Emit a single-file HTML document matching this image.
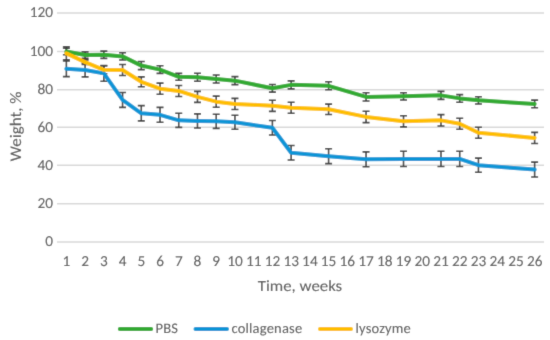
<!DOCTYPE html>
<html><head><meta charset="utf-8"><style>
html,body{margin:0;padding:0;background:#fff;}
svg{display:block;}
#w{width:550px;height:340px;}
text{font-family:Carlito,"Liberation Sans",sans-serif;fill:#595959;stroke:#595959;stroke-width:0.12px;text-rendering:geometricPrecision;}
</style></head><body>
<div id="w"><svg width="550" height="340" viewBox="0 0 550 340">
<defs><filter id="b" x="0" y="0" width="550" height="340" filterUnits="userSpaceOnUse"><feConvolveMatrix order="3" kernelMatrix="0.0113 0.0838 0.0113 0.0838 0.6193 0.0838 0.0113 0.0838 0.0113" edgeMode="duplicate" preserveAlpha="true"/></filter></defs>
<g filter="url(#b)">
<rect width="550" height="340" fill="#fff"/>
<line x1="57.0" y1="242.05" x2="544.0" y2="242.05" stroke="#D9D9D9" stroke-width="1.5"/><line x1="57.0" y1="203.70" x2="544.0" y2="203.70" stroke="#D9D9D9" stroke-width="1.5"/><line x1="57.0" y1="165.35" x2="544.0" y2="165.35" stroke="#D9D9D9" stroke-width="1.5"/><line x1="57.0" y1="127.35" x2="544.0" y2="127.35" stroke="#D9D9D9" stroke-width="1.5"/><line x1="57.0" y1="89.65" x2="544.0" y2="89.65" stroke="#D9D9D9" stroke-width="1.5"/><line x1="57.0" y1="51.40" x2="544.0" y2="51.40" stroke="#D9D9D9" stroke-width="1.5"/><line x1="57.0" y1="13.10" x2="544.0" y2="13.10" stroke="#D9D9D9" stroke-width="1.5"/>
<g font-size="15.3">
<text transform="translate(53,246.25) scale(1,1.0)" text-anchor="end" textLength="7.766" lengthAdjust="spacingAndGlyphs">0</text><text transform="translate(53,207.90) scale(1,1.0)" text-anchor="end" textLength="15.531" lengthAdjust="spacingAndGlyphs">20</text><text transform="translate(53,169.55) scale(1,1.0)" text-anchor="end" textLength="15.531" lengthAdjust="spacingAndGlyphs">40</text><text transform="translate(53,131.55) scale(1,1.0)" text-anchor="end" textLength="15.531" lengthAdjust="spacingAndGlyphs">60</text><text transform="translate(53,93.85) scale(1,1.0)" text-anchor="end" textLength="15.531" lengthAdjust="spacingAndGlyphs">80</text><text transform="translate(53,55.60) scale(1,1.0)" text-anchor="end" textLength="23.297" lengthAdjust="spacingAndGlyphs">100</text><text transform="translate(53,17.30) scale(1,1.0)" text-anchor="end" textLength="23.297" lengthAdjust="spacingAndGlyphs">120</text>
<text transform="translate(66.37,266) scale(1,1.0)" text-anchor="middle" textLength="7.766" lengthAdjust="spacingAndGlyphs">1</text><text transform="translate(85.10,266) scale(1,1.0)" text-anchor="middle" textLength="7.766" lengthAdjust="spacingAndGlyphs">2</text><text transform="translate(103.83,266) scale(1,1.0)" text-anchor="middle" textLength="7.766" lengthAdjust="spacingAndGlyphs">3</text><text transform="translate(122.56,266) scale(1,1.0)" text-anchor="middle" textLength="7.766" lengthAdjust="spacingAndGlyphs">4</text><text transform="translate(141.29,266) scale(1,1.0)" text-anchor="middle" textLength="7.766" lengthAdjust="spacingAndGlyphs">5</text><text transform="translate(160.02,266) scale(1,1.0)" text-anchor="middle" textLength="7.766" lengthAdjust="spacingAndGlyphs">6</text><text transform="translate(178.75,266) scale(1,1.0)" text-anchor="middle" textLength="7.766" lengthAdjust="spacingAndGlyphs">7</text><text transform="translate(197.48,266) scale(1,1.0)" text-anchor="middle" textLength="7.766" lengthAdjust="spacingAndGlyphs">8</text><text transform="translate(216.21,266) scale(1,1.0)" text-anchor="middle" textLength="7.766" lengthAdjust="spacingAndGlyphs">9</text><text transform="translate(234.94,266) scale(1,1.0)" text-anchor="middle" textLength="15.531" lengthAdjust="spacingAndGlyphs">10</text><text transform="translate(253.67,266) scale(1,1.0)" text-anchor="middle" textLength="15.531" lengthAdjust="spacingAndGlyphs">11</text><text transform="translate(272.40,266) scale(1,1.0)" text-anchor="middle" textLength="15.531" lengthAdjust="spacingAndGlyphs">12</text><text transform="translate(291.13,266) scale(1,1.0)" text-anchor="middle" textLength="15.531" lengthAdjust="spacingAndGlyphs">13</text><text transform="translate(309.87,266) scale(1,1.0)" text-anchor="middle" textLength="15.531" lengthAdjust="spacingAndGlyphs">14</text><text transform="translate(328.60,266) scale(1,1.0)" text-anchor="middle" textLength="15.531" lengthAdjust="spacingAndGlyphs">15</text><text transform="translate(347.33,266) scale(1,1.0)" text-anchor="middle" textLength="15.531" lengthAdjust="spacingAndGlyphs">16</text><text transform="translate(366.06,266) scale(1,1.0)" text-anchor="middle" textLength="15.531" lengthAdjust="spacingAndGlyphs">17</text><text transform="translate(384.79,266) scale(1,1.0)" text-anchor="middle" textLength="15.531" lengthAdjust="spacingAndGlyphs">18</text><text transform="translate(403.52,266) scale(1,1.0)" text-anchor="middle" textLength="15.531" lengthAdjust="spacingAndGlyphs">19</text><text transform="translate(422.25,266) scale(1,1.0)" text-anchor="middle" textLength="15.531" lengthAdjust="spacingAndGlyphs">20</text><text transform="translate(440.98,266) scale(1,1.0)" text-anchor="middle" textLength="15.531" lengthAdjust="spacingAndGlyphs">21</text><text transform="translate(459.71,266) scale(1,1.0)" text-anchor="middle" textLength="15.531" lengthAdjust="spacingAndGlyphs">22</text><text transform="translate(478.44,266) scale(1,1.0)" text-anchor="middle" textLength="15.531" lengthAdjust="spacingAndGlyphs">23</text><text transform="translate(497.17,266) scale(1,1.0)" text-anchor="middle" textLength="15.531" lengthAdjust="spacingAndGlyphs">24</text><text transform="translate(515.90,266) scale(1,1.0)" text-anchor="middle" textLength="15.531" lengthAdjust="spacingAndGlyphs">25</text><text transform="translate(534.63,266) scale(1,1.0)" text-anchor="middle" textLength="15.531" lengthAdjust="spacingAndGlyphs">26</text>
</g>
<text transform="translate(300,290.8) scale(1,0.93)" text-anchor="middle" font-size="16.8" textLength="84.36" lengthAdjust="spacingAndGlyphs">Time, weeks</text>
<text transform="translate(21,126.4) rotate(-90) scale(1,0.95)" text-anchor="middle" font-size="17" textLength="69.58" lengthAdjust="spacingAndGlyphs">Weight, %</text>
<g stroke="#404040" stroke-width="1.6" fill="none">
<path d="M66.37 48.21V54.70M62.87 48.21H69.87M62.87 54.70H69.87"/>
<path d="M85.10 51.84V58.33M81.60 51.84H88.60M81.60 58.33H88.60"/>
<path d="M103.83 51.08V58.33M100.33 51.08H107.33M100.33 58.33H107.33"/>
<path d="M122.56 52.79V60.05M119.06 52.79H126.06M119.06 60.05H126.06"/>
<path d="M141.29 61.57V69.59M137.79 61.57H144.79M137.79 69.59H144.79"/>
<path d="M160.02 65.77V73.40M156.52 65.77H163.52M156.52 73.40H163.52"/>
<path d="M178.75 73.40V80.27M175.25 73.40H182.25M175.25 80.27H182.25"/>
<path d="M197.48 73.21V81.23M193.98 73.21H200.98M193.98 81.23H200.98"/>
<path d="M216.21 74.93V82.94M212.71 74.93H219.71M212.71 82.94H219.71"/>
<path d="M234.94 76.65V84.66M231.44 76.65H238.44M231.44 84.66H238.44"/>
<path d="M272.40 84.47V92.11M268.90 84.47H275.90M268.90 92.11H275.90"/>
<path d="M291.13 80.85V88.86M287.63 80.85H294.63M287.63 88.86H294.63"/>
<path d="M328.60 81.80V89.81M325.10 81.80H332.10M325.10 89.81H332.10"/>
<path d="M366.06 92.68V101.07M362.56 92.68H369.56M362.56 101.07H369.56"/>
<path d="M403.52 92.68V99.93M400.02 92.68H407.02M400.02 99.93H407.02"/>
<path d="M440.98 91.34V99.36M437.48 91.34H444.48M437.48 99.36H444.48"/>
<path d="M459.71 94.59V102.22M456.21 94.59H463.21M456.21 102.22H463.21"/>
<path d="M478.44 96.69V103.94M474.94 96.69H481.94M474.94 103.94H481.94"/>
<path d="M534.63 100.12V107.75M531.13 100.12H538.13M531.13 107.75H538.13"/>
<path d="M66.37 61.00V76.65M62.87 61.00H69.87M62.87 76.65H69.87"/>
<path d="M85.10 63.10V76.84M81.60 63.10H88.60M81.60 76.84H88.60"/>
<path d="M103.83 65.58V81.23M100.33 65.58H107.33M100.33 81.23H107.33"/>
<path d="M122.56 92.49V107.37M119.06 92.49H126.06M119.06 107.37H126.06"/>
<path d="M141.29 105.65V120.92M137.79 105.65H144.79M137.79 120.92H144.79"/>
<path d="M160.02 107.37V122.26M156.52 107.37H163.52M156.52 122.26H163.52"/>
<path d="M178.75 113.29V127.41M175.25 113.29H182.25M175.25 127.41H182.25"/>
<path d="M197.48 113.86V127.98M193.98 113.86H200.98M193.98 127.98H200.98"/>
<path d="M216.21 114.24V128.36M212.71 114.24H219.71M212.71 128.36H219.71"/>
<path d="M234.94 115.20V129.32M231.44 115.20H238.44M231.44 129.32H238.44"/>
<path d="M272.40 120.54V135.04M268.90 120.54H275.90M268.90 135.04H275.90"/>
<path d="M291.13 145.54V160.04M287.63 145.54H294.63M287.63 160.04H294.63"/>
<path d="M328.60 148.78V163.67M325.10 148.78H332.10M325.10 163.67H332.10"/>
<path d="M366.06 151.84V166.72M362.56 151.84H369.56M362.56 166.72H369.56"/>
<path d="M403.52 151.26V166.53M400.02 151.26H407.02M400.02 166.53H407.02"/>
<path d="M440.98 151.26V166.53M437.48 151.26H444.48M437.48 166.53H444.48"/>
<path d="M459.71 151.26V166.53M456.21 151.26H463.21M456.21 166.53H463.21"/>
<path d="M478.44 158.13V172.25M474.94 158.13H481.94M474.94 172.25H481.94"/>
<path d="M534.63 162.14V177.03M531.13 162.14H538.13M531.13 177.03H538.13"/>
<path d="M66.37 46.88V59.85M62.87 46.88H69.87M62.87 59.85H69.87"/>
<path d="M85.10 59.85V64.43M81.60 59.85H88.60M81.60 64.43H88.60"/>
<path d="M103.83 65.77V73.78M100.33 65.77H107.33M100.33 73.78H107.33"/>
<path d="M122.56 64.43V75.50M119.06 64.43H126.06M119.06 75.50H126.06"/>
<path d="M141.29 76.84V86.76M137.79 76.84H144.79M137.79 86.76H144.79"/>
<path d="M160.02 83.14V94.20M156.52 83.14H163.52M156.52 94.20H163.52"/>
<path d="M178.75 85.43V96.49M175.25 85.43H182.25M175.25 96.49H182.25"/>
<path d="M197.48 91.34V102.41M193.98 91.34H200.98M193.98 102.41H200.98"/>
<path d="M216.21 96.11V107.18M212.71 96.11H219.71M212.71 107.18H219.71"/>
<path d="M234.94 98.40V109.47M231.44 98.40H238.44M231.44 109.47H238.44"/>
<path d="M272.40 100.31V111.38M268.90 100.31H275.90M268.90 111.38H275.90"/>
<path d="M291.13 102.22V113.29M287.63 102.22H294.63M287.63 113.29H294.63"/>
<path d="M328.60 104.13V114.43M325.10 104.13H332.10M325.10 114.43H332.10"/>
<path d="M366.06 111.19V122.64M362.56 111.19H369.56M362.56 122.64H369.56"/>
<path d="M403.52 115.77V126.84M400.02 115.77H407.02M400.02 126.84H407.02"/>
<path d="M440.98 114.62V126.07M437.48 114.62H444.48M437.48 126.07H444.48"/>
<path d="M459.71 118.25V129.32M456.21 118.25H463.21M456.21 129.32H463.21"/>
<path d="M478.44 127.22V138.29M474.94 127.22H481.94M474.94 138.29H481.94"/>
<path d="M534.63 132.37V143.44M531.13 132.37H538.13M531.13 143.44H538.13"/>
</g>
<polyline points="66.37,51.46 85.10,55.08 103.83,54.70 122.56,56.42 141.29,65.58 160.02,69.59 178.75,76.84 197.48,77.22 216.21,78.94 234.94,80.66 272.40,88.29 291.13,84.85 328.60,85.81 366.06,96.88 403.52,96.30 440.98,95.35 459.71,98.40 478.44,100.31 534.63,103.94" fill="none" stroke="#30AA30" stroke-width="4" stroke-linejoin="round" stroke-linecap="round"/>
<polyline points="66.37,68.82 85.10,69.97 103.83,73.40 122.56,99.93 141.29,113.29 160.02,114.81 178.75,120.35 197.48,120.92 216.21,121.30 234.94,122.26 272.40,127.79 291.13,152.79 328.60,156.22 366.06,159.28 403.52,158.90 440.98,158.90 459.71,158.90 478.44,165.19 534.63,169.58" fill="none" stroke="#0E95D6" stroke-width="4" stroke-linejoin="round" stroke-linecap="round"/>
<polyline points="66.37,53.37 85.10,62.14 103.83,69.78 122.56,69.97 141.29,81.80 160.02,88.67 178.75,90.96 197.48,96.88 216.21,101.65 234.94,103.94 272.40,105.84 291.13,107.75 328.60,109.28 366.06,116.91 403.52,121.30 440.98,120.35 459.71,123.78 478.44,132.75 534.63,137.91" fill="none" stroke="#FEBE00" stroke-width="4" stroke-linejoin="round" stroke-linecap="round"/>
<g stroke-width="4" stroke-linecap="round">
<line x1="119.8" y1="329" x2="151.2" y2="329" stroke="#30AA30"/>
<line x1="195.5" y1="329" x2="227" y2="329" stroke="#0E95D6"/>
<line x1="320" y1="329" x2="351" y2="329" stroke="#FEBE00"/>
</g>
<g font-size="14.5" letter-spacing="0.2">
<text x="155.5" y="333.2" textLength="22.64" lengthAdjust="spacingAndGlyphs">PBS</text>
<text x="231.5" y="333.2" textLength="70.83" lengthAdjust="spacingAndGlyphs">collagenase</text>
<text x="355.6" y="333.2" textLength="55.45" lengthAdjust="spacingAndGlyphs">lysozyme</text>
</g>
</g>
</svg></div>
</body></html>
